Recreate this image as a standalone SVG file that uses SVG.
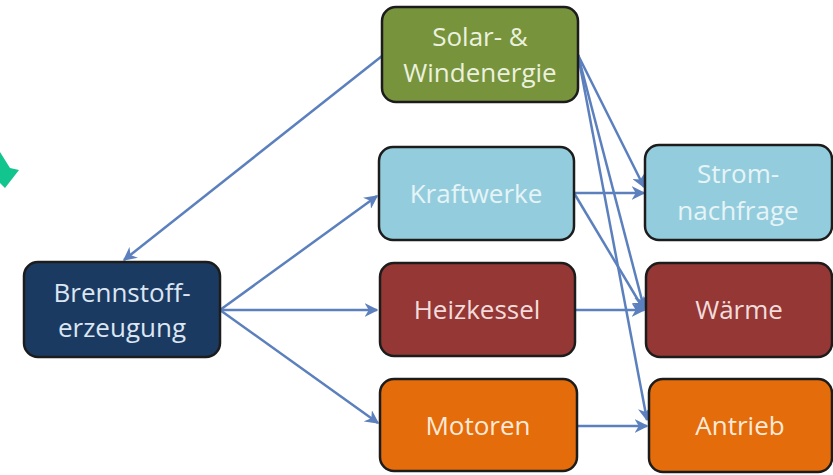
<svg xmlns="http://www.w3.org/2000/svg" width="833" height="475" viewBox="0 0 833 475">
<defs>
<marker id="ah" viewBox="0 0 10 10" refX="9" refY="5" markerWidth="5.5" markerHeight="5.5" orient="auto" markerUnits="strokeWidth">
<path d="M0,0 L10,5 L0,10 L3,5 Z" fill="#5b80bd"/>
</marker>
</defs>
<style>
.box{stroke:#1c1c1c;stroke-width:2.5}
.t{font-family:"Open Sans","Noto Sans","DejaVu Sans",sans-serif;font-size:26px;text-anchor:middle}
.e{fill:none;stroke:#5b80bd;stroke-width:2.5;marker-end:url(#ah)}
</style>
<rect width="833" height="475" fill="#ffffff"/>
<polygon points="0,152 10,168 19,170 5,188 0,183" fill="#12c48e"/>
<g id="edges">
<line class="e" x1="382" y1="56" x2="124" y2="260"/>
<line class="e" x1="220" y1="310" x2="377" y2="196"/>
<line class="e" x1="220" y1="310" x2="377" y2="310"/>
<line class="e" x1="220" y1="310" x2="378" y2="423"/>
<line class="e" x1="574" y1="193" x2="644" y2="193"/>
<line class="e" x1="574" y1="193" x2="644" y2="310"/>
<line class="e" x1="575" y1="310" x2="644" y2="310"/>
<line class="e" x1="577" y1="426" x2="647" y2="426"/>
<line class="e" x1="578" y1="55" x2="644" y2="187"/>
<line class="e" x1="578" y1="55" x2="644" y2="308"/>
<line class="e" x1="578" y1="55" x2="647" y2="420"/>
</g>
<g id="brennstoff">
<rect class="box" x="24" y="262" width="196" height="95" rx="14" fill="#1b3a62"/>
<text class="t" x="122" y="302" fill="#dce6f2">Brennstoff-</text>
<text class="t" x="122" y="337" fill="#dce6f2">erzeugung</text>
</g>
<g id="solar">
<rect class="box" x="382" y="7" width="196" height="95" rx="14" fill="#77933c"/>
<text class="t" x="480" y="46" fill="#ebf1de">Solar- &amp;</text>
<text class="t" x="480" y="82" fill="#ebf1de">Windenergie</text>
</g>
<g id="kraftwerke">
<rect class="box" x="379" y="147" width="195" height="93" rx="14" fill="#93cddd"/>
<text class="t" x="476" y="203" fill="#e6f4f7">Kraftwerke</text>
</g>
<g id="heizkessel">
<rect class="box" x="380" y="263" width="195" height="93" rx="14" fill="#953735"/>
<text class="t" x="477" y="319" fill="#f2dcdb">Heizkessel</text>
</g>
<g id="motoren">
<rect class="box" x="380" y="379" width="197" height="92" rx="14" fill="#e46c0a"/>
<text class="t" x="478" y="435" fill="#fde9d9">Motoren</text>
</g>
<g id="strom">
<rect class="box" x="645" y="145" width="187" height="95" rx="14" fill="#93cddd"/>
<text class="t" x="738" y="183" fill="#e6f4f7">Strom-</text>
<text class="t" x="738" y="220" fill="#e6f4f7">nachfrage</text>
</g>
<g id="waerme">
<rect class="box" x="646" y="263" width="186" height="94" rx="14" fill="#953735"/>
<text class="t" x="739" y="319" fill="#f2dcdb">Wärme</text>
</g>
<g id="antrieb">
<rect class="box" x="649" y="379" width="183" height="93" rx="14" fill="#e46c0a"/>
<text class="t" x="740" y="435" fill="#fde9d9">Antrieb</text>
</g>
</svg>
